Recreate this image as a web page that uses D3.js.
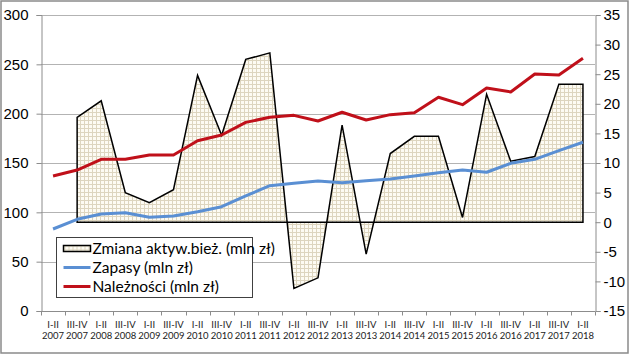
<!DOCTYPE html>
<html>
<head>
<meta charset="utf-8">
<script src="https://cdn.jsdelivr.net/npm/d3@7"></script>
<style>
  body { margin: 0; background: #fff; }
  svg { display: block; font-family: Lato, "Open Sans", sans-serif; }
</style>
</head>
<body>
<svg width="629" height="354"></svg>
<script>
const width = 629, height = 354;
const marginTop = 15;
const marginRight = 34;
const marginBottom = 43;
const marginLeft = 41;
const svg = d3.select("svg");

// data
const periods = ["I-II", "III-IV", "I-II", "III-IV", "I-II", "III-IV", "I-II", "III-IV", "I-II", "III-IV",
    "I-II", "III-IV", "I-II", "III-IV", "I-II", "III-IV", "I-II", "III-IV", "I-II", "III-IV", "I-II", "III-IV", "I-II"];
const years = ["2007", "2007", "2008", "2008", "2009", "2009", "2010", "2010", "2011", "2011",
    "2012", "2012", "2013", "2013", "2014", "2014", "2015", "2015", "2016", "2016", "2017", "2017", "2018"];
const zmiana = [null, 17.7, 20.5, 5.0, 3.3, 5.5, 24.8, 14.7, 27.5, 28.6,
    -11.2, -9.4, 16.4, -5.4, 11.6, 14.5, 14.5, 0.8, 21.6, 10.3, 11.1, 23.3, 23.3];
const zapasy = [83.1, 92.9, 98.3, 99.6, 95.0, 96.3, 100.6, 105.7, 116.6, 127.0,
    129.4, 131.8, 130.0, 132.0, 133.8, 136.8, 140.2, 142.9, 140.6, 149.7, 153.7, 162.5, 171.0];
const naleznosci = [136.8, 142.9, 153.7, 153.7, 158.1, 158.1, 172.6, 178.4, 191.2, 196.3,
    198.3, 192.6, 201.4, 193.6, 199.0, 201.0, 216.6, 209.1, 226.0, 222.0, 240.2, 239.2, 256.1];
const leftTicks = [0, 50, 100, 150, 200, 250, 300];
const rightTicks = [-15, -10, -5, 0, 5, 10, 15, 20, 25, 30, 35];

const idx = d3.range(periods.length);

// Scales
const xScale = d3.scaleBand()
    .domain(idx)
    .range([marginLeft, width - marginRight]);
const cx = i => xScale(i) + xScale.bandwidth() / 2;

const yScale = d3.scaleLinear()
    .domain([0, 300])
    .range([height - marginBottom, marginTop]);

const yRight = d3.scaleLinear()
    .domain([-15, 35])
    .range([height - marginBottom, marginTop]);

// hatch pattern for the area series
const defs = svg.append("defs");
const pat = defs.append("pattern")
    .attr("id", "grid")
    .attr("patternUnits", "userSpaceOnUse")
    .attr("width", 4)
    .attr("height", 4);
pat.append("rect").attr("width", 4).attr("height", 4).attr("fill", "#fdfbf3");
pat.append("path")
    .attr("d", "M0,0.5H4M0.5,0V4")
    .attr("stroke", "#ddd5bf")
    .attr("stroke-width", 1);

// outer border
svg.append("rect")
    .attr("x", 1).attr("y", 1)
    .attr("width", width - 2).attr("height", height - 2)
    .attr("fill", "none")
    .attr("stroke", "#8a8a8a")
    .attr("stroke-width", 1.5);

// gridlines
svg.append("g")
    .selectAll("line")
    .data(leftTicks.filter(d => d > 0))
    .join("line")
    .attr("x1", marginLeft).attr("x2", width - marginRight)
    .attr("y1", d => Math.round(yScale(d)) + 0.5)
    .attr("y2", d => Math.round(yScale(d)) + 0.5)
    .attr("stroke", "#b3b3b3");

// Axes
const yAxis = svg.append("g")
    .attr("transform", `translate(${marginLeft + 0.5}, 0)`)
    .call(d3.axisLeft(yScale).tickValues(leftTicks).tickSize(5).tickPadding(8));

const yAxisR = svg.append("g")
    .attr("transform", `translate(${width - marginRight + 0.5}, 0)`)
    .call(d3.axisRight(yRight).tickValues(rightTicks).tickFormat(d => String(d)).tickSize(5).tickPadding(3));

[yAxis, yAxisR].forEach(g => {
    g.select(".domain").attr("stroke", "#8c8c8c");
    g.selectAll(".tick line").attr("stroke", "#8c8c8c");
    g.selectAll(".tick text")
        .attr("fill", "#000")
        .style("font-size", "15px");
});
yAxisR.selectAll(".tick text").attr("x", 8);

// x axis: ticks between categories, two-line labels
const xAxis = svg.append("g");
const y0 = Math.round(yScale(0)) + 0.5;
xAxis.append("line")
    .attr("x1", marginLeft).attr("x2", width - marginRight)
    .attr("y1", y0).attr("y2", y0)
    .attr("stroke", "#8c8c8c");
xAxis.selectAll("line.tick")
    .data(d3.range(periods.length + 1))
    .join("line")
    .attr("class", "tick")
    .attr("x1", i => Math.round(marginLeft + i * xScale.bandwidth()) + 0.5)
    .attr("x2", i => Math.round(marginLeft + i * xScale.bandwidth()) + 0.5)
    .attr("y1", y0).attr("y2", y0 + 4)
    .attr("stroke", "#8c8c8c");
const xLabels = xAxis.selectAll("text")
    .data(idx)
    .join("text")
    .attr("x", cx)
    .attr("text-anchor", "middle")
    .style("font-size", "9.5px")
    .attr("fill", "#222");
xLabels.append("tspan").attr("x", cx).attr("y", 328).text(i => periods[i]);
xLabels.append("tspan").attr("x", cx).attr("y", 339).text(i => years[i]);

// Area series (secondary axis)
const areaGen = d3.area()
    .defined(i => zmiana[i] != null)
    .x(cx)
    .y0(yRight(0))
    .y1(i => yRight(zmiana[i]));

svg.append("path")
    .datum(idx)
    .attr("fill", "url(#grid)")
    .attr("stroke", "#000")
    .attr("stroke-width", 1.5)
    .attr("stroke-linejoin", "miter")
    .attr("d", areaGen(idx.filter(i => zmiana[i] != null)) + "Z");

// Line generator
const lineOf = values => d3.line()
    .x(cx)
    .y(i => yScale(values[i]));

svg.append("path")
    .datum(idx)
    .attr("fill", "none")
    .attr("stroke", "#5a8fd3")
    .attr("stroke-width", 3)
    .attr("stroke-linejoin", "round")
    .attr("d", lineOf(zapasy));

svg.append("path")
    .datum(idx)
    .attr("fill", "none")
    .attr("stroke", "#c0101a")
    .attr("stroke-width", 3)
    .attr("stroke-linejoin", "round")
    .attr("d", lineOf(naleznosci));

// Legend
const legend = svg.append("g")
    .attr("transform", "translate(56.5, 237.5)");

legend.append("rect")
    .attr("width", 196)
    .attr("height", 60)
    .attr("fill", "#fff")
    .attr("stroke", "#404040");

const legendItems = [
    { type: "area", label: "Zmiana aktyw.bież. (mln zł)" },
    { type: "line", color: "#5a8fd3", label: "Zapasy (mln zł)" },
    { type: "line", color: "#c0101a", label: "Należności (mln zł)" }
];

legendItems.forEach((item, index) => {
    const cy = 11 + index * 19;
    if (item.type === "area") {
        legend.append("rect")
            .attr("x", 7).attr("y", cy - 3)
            .attr("width", 27).attr("height", 6)
            .attr("fill", "url(#grid)")
            .attr("stroke", "#000")
            .attr("stroke-width", 1.5);
    } else {
        legend.append("line")
            .attr("x1", 7).attr("x2", 34)
            .attr("y1", cy).attr("y2", cy)
            .attr("stroke", item.color)
            .attr("stroke-width", 3);
    }
    legend.append("text")
        .attr("x", 36)
        .attr("y", cy)
        .attr("dy", "0.35em")
        .style("font-size", "15.5px")
        .attr("fill", "#000")
        .text(item.label);
});
</script>
</body>
</html>
